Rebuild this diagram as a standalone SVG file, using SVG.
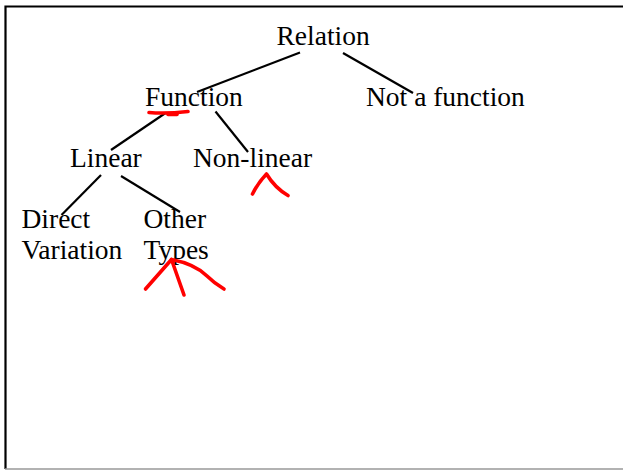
<svg xmlns="http://www.w3.org/2000/svg" width="623" height="470" viewBox="0 0 623 470">
  <style>
    .lbl { font-family: "Liberation Serif", "Times New Roman", serif; font-size: 27.5px; fill: #000; }
    .edge { stroke: #000; stroke-width: 2.2; fill: none; }
    .ink { stroke: #f00; stroke-width: 3.6; fill: none; stroke-linecap: round; stroke-linejoin: round; }
  </style>
  <rect width="623" height="470" fill="#fff"/>
  <!-- frame: open on the right -->
  <path d="M623,6.5 H5.5 V469" stroke="#000" stroke-width="2.2" fill="none"/>
  <line x1="5" y1="469" x2="623" y2="469" stroke="#999" stroke-width="1.5"/>

  <g id="connectors">
    <line class="edge" x1="300" y1="52.5" x2="197" y2="92"/>
    <line class="edge" x1="343" y1="53" x2="413" y2="93"/>
    <line class="edge" x1="165.5" y1="113" x2="111" y2="150"/>
    <line class="edge" x1="215.5" y1="111.5" x2="248" y2="152"/>
    <line class="edge" x1="101" y1="175" x2="61.5" y2="215"/>
    <line class="edge" x1="121" y1="176" x2="180" y2="212"/>
  </g>

  <g id="relation"><text class="lbl" x="276.5" y="45">Relation</text></g>
  <g id="function"><text class="lbl" x="145" y="106">Function</text></g>
  <g id="not-a-function"><text class="lbl" x="366" y="106">Not a function</text></g>
  <g id="linear"><text class="lbl" x="70" y="167">Linear</text></g>
  <g id="non-linear"><text class="lbl" x="193" y="167">Non-linear</text></g>
  <g id="direct-variation">
    <text class="lbl" x="21.5" y="228">Direct</text>
    <text class="lbl" x="21.5" y="259">Variation</text>
  </g>
  <g id="other-types">
    <text class="lbl" x="143.5" y="228">Other</text>
    <text class="lbl" x="143.5" y="259">Types</text>
  </g>

  <!-- red hand annotations -->
  <g id="annotations">
    <path class="ink" d="M149,112.5 Q166,114 188,111.5"/>
    <path class="ink" d="M168,114.5 L177,114.5" stroke-width="3"/>
    <path class="ink" d="M252.5,194 Q258,183 266.5,174 Q275,188 288,195.5"/>
    <path class="ink" d="M145.5,289 L171.5,259.5 L184,295"/>
    <path class="ink" d="M171.5,259.5 Q195,264 207,276 Q214,283 224,289"/>
  </g>
</svg>
